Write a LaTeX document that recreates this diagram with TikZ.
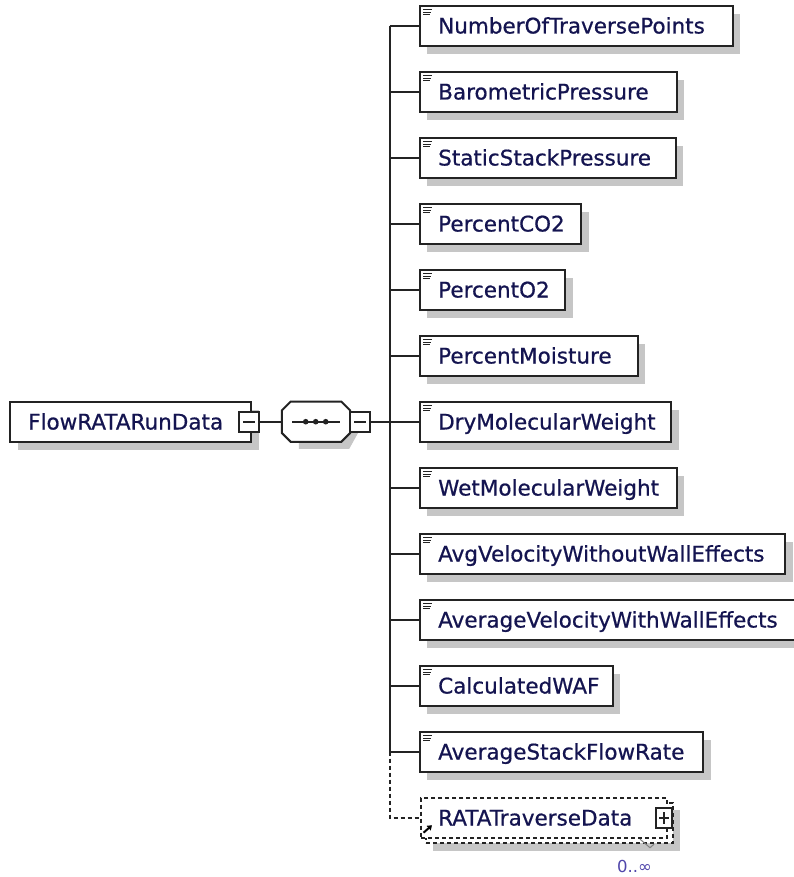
\documentclass[tikz,border=0pt]{standalone}
\usepackage{fontspec}
\setmainfont{DejaVu Sans}
\newfontfamily\lblfont[FakeBold=0.7]{DejaVu Sans}
\usetikzlibrary{calc,arrows.meta}
\definecolor{txt}{RGB}{20,20,80}
\definecolor{shd}{RGB}{198,198,198}
\definecolor{occ}{RGB}{80,70,170}
\definecolor{ln}{RGB}{35,35,35}
\begin{document}
\begin{tikzpicture}[x=1pt,y=-1pt,
  elembox/.style={draw=ln, line width=2pt, fill=white, minimum height=40pt, inner sep=0pt, anchor=west},
  shadowbox/.style={fill=shd, draw=none, minimum height=40pt, inner sep=0pt, anchor=west},
  lbl/.style={font=\lblfont\fontsize{21.5}{24}\selectfont, text=txt, anchor=base west, inner sep=0pt},
  toggle/.style={draw=ln, line width=1.8pt, fill=white, minimum width=20pt, minimum height=20pt, inner sep=0pt},
  conn/.style={draw=ln, line width=2pt},
  dashconn/.style={draw=ln, line width=2pt, dash pattern=on 4pt off 3pt},
  iconline/.style={draw=ln, line width=1.3pt},
]
\useasboundingbox (0,0) rectangle (793,877);

% ---- root element ----
\node[shadowbox, minimum width=241pt] (rootshadow) at (17.3,429.7) {};
\node[elembox, minimum width=241pt] (root) at (9.3,421.7) {};
\node[lbl] (roottxt) at (28,429.5) {FlowRATARunData};
\node[toggle] (tg1) at (249,421.7) {};
\draw[conn] ($(tg1.center)+(-6,0)$) -- ($(tg1.center)+(6,0)$);

% ---- sequence compositor ----
\node[minimum width=68pt, minimum height=40pt, inner sep=0pt] (seq) at (316,421.7) {};
\fill[shd] ($(seq.north west)+(17,8)$) -- ($(seq.north east)+(-1,8)$) -- ($(seq.east)+(8,-3)$) -- ($(seq.east)+(8,11)$)
  -- ($(seq.south east)+(-1,7)$) -- ($(seq.south west)+(17,7)$) -- cycle;
\draw[conn, fill=white] ($(seq.north west)+(9,0)$) -- ($(seq.north east)+(-9,0)$) -- ($(seq.north east)+(0,9)$)
  -- ($(seq.south east)+(0,-9)$) -- ($(seq.south east)+(-9,0)$) -- ($(seq.south west)+(9,0)$)
  -- ($(seq.south west)+(0,-9)$) -- ($(seq.north west)+(0,9)$) -- cycle;
\draw[conn] ($(seq.center)+(-24,0)$) -- ($(seq.center)+(24,0)$);
\foreach \dx in {-10.3,-0.3,9.7} \fill[ln] ($(seq.center)+(\dx,0)$) circle (2.8);
\node[toggle] (tg2) at (360,421.7) {};
\draw[conn] ($(tg2.center)+(-6,0)$) -- ($(tg2.center)+(6,0)$);
\draw[conn] (tg1.east) -- (seq.west);

% ---- children ----
\foreach \i/\nm/\w in {1/NumberOfTraversePoints/313, 2/BarometricPressure/257, 3/StaticStackPressure/255.7,
  4/PercentCO2/161.3, 5/PercentO2/145.3, 6/PercentMoisture/217.7, 7/DryMolecularWeight/251.3,
  8/WetMolecularWeight/257, 9/AvgVelocityWithoutWallEffects/365.3, 10/AverageVelocityWithWallEffects/378,
  11/CalculatedWAF/193, 12/AverageStackFlowRate/283.3} {
  \pgfmathsetmacro\yc{25.7+66*(\i-1)}
  \coordinate (j\i) at (389.5,\yc);
  \node[shadowbox, minimum width=\w pt] (s\i) at (427,\yc+8) {};
  \node[elembox, minimum width=\w pt] (b\i) at (419,\yc) {};
  \node[lbl] (t\i) at (438,\yc+7.8) {\nm};
  \draw[iconline] ($(b\i.north west)+(4.3,5)$) -- +(8.4,0);
  \draw[iconline] ($(b\i.north west)+(4.3,7.5)$) -- +(7.4,0);
  \draw[iconline] ($(b\i.north west)+(4.3,10)$) -- +(6.6,0);
  \draw[conn] (j\i) -- (b\i.west);
}
\coordinate (j13) at (389.5,817.7);
\draw[conn] (j1) -- (j12);
\draw[conn] (tg2.east) -- (tg2.east -| j1);

% ---- RATATraverseData (0..unbounded, reference) ----
\node[shadowbox, minimum width=247pt, minimum height=41pt] (rs) at (433,830.5) {};
\node[elembox, dash pattern=on 4pt off 3pt, minimum width=247pt] (rb) at (425,822.7) {};
\node[elembox, dash pattern=on 4pt off 3pt, minimum width=246pt] (rf) at (420,817.7) {};
\node[lbl] (rt) at (438,825.5) {RATATraverseData};
\node[toggle, minimum width=16pt, minimum height=20pt] (tgp) at (664,818) {};
\draw[conn] ($(tgp.center)+(-5,0)$) -- ($(tgp.center)+(5,0)$);
\draw[conn] ($(tgp.center)+(0,-6)$) -- ($(tgp.center)+(0,6)$);
\draw[line width=2pt, draw=black, -{Triangle[length=4.5pt,width=6pt]}] ($(rf.south west)+(3.5,-6)$) -- ($(rf.south west)+(12,-13.5)$);
\draw[dashconn] (j12) -- (j13) -- (rf.west);
\node[font=\fontsize{16.5}{18}\selectfont, text=occ, anchor=base west, inner sep=0pt] (occlbl) at (617,872) {0..∞};
\draw[draw=gray, line width=1pt] ($(rf.south east)+(-28,0.5)$) -- ($(rf.south east)+(-18,9)$) -- ($(rf.south east)+(-14,5.5)$);
\end{tikzpicture}
\end{document}
